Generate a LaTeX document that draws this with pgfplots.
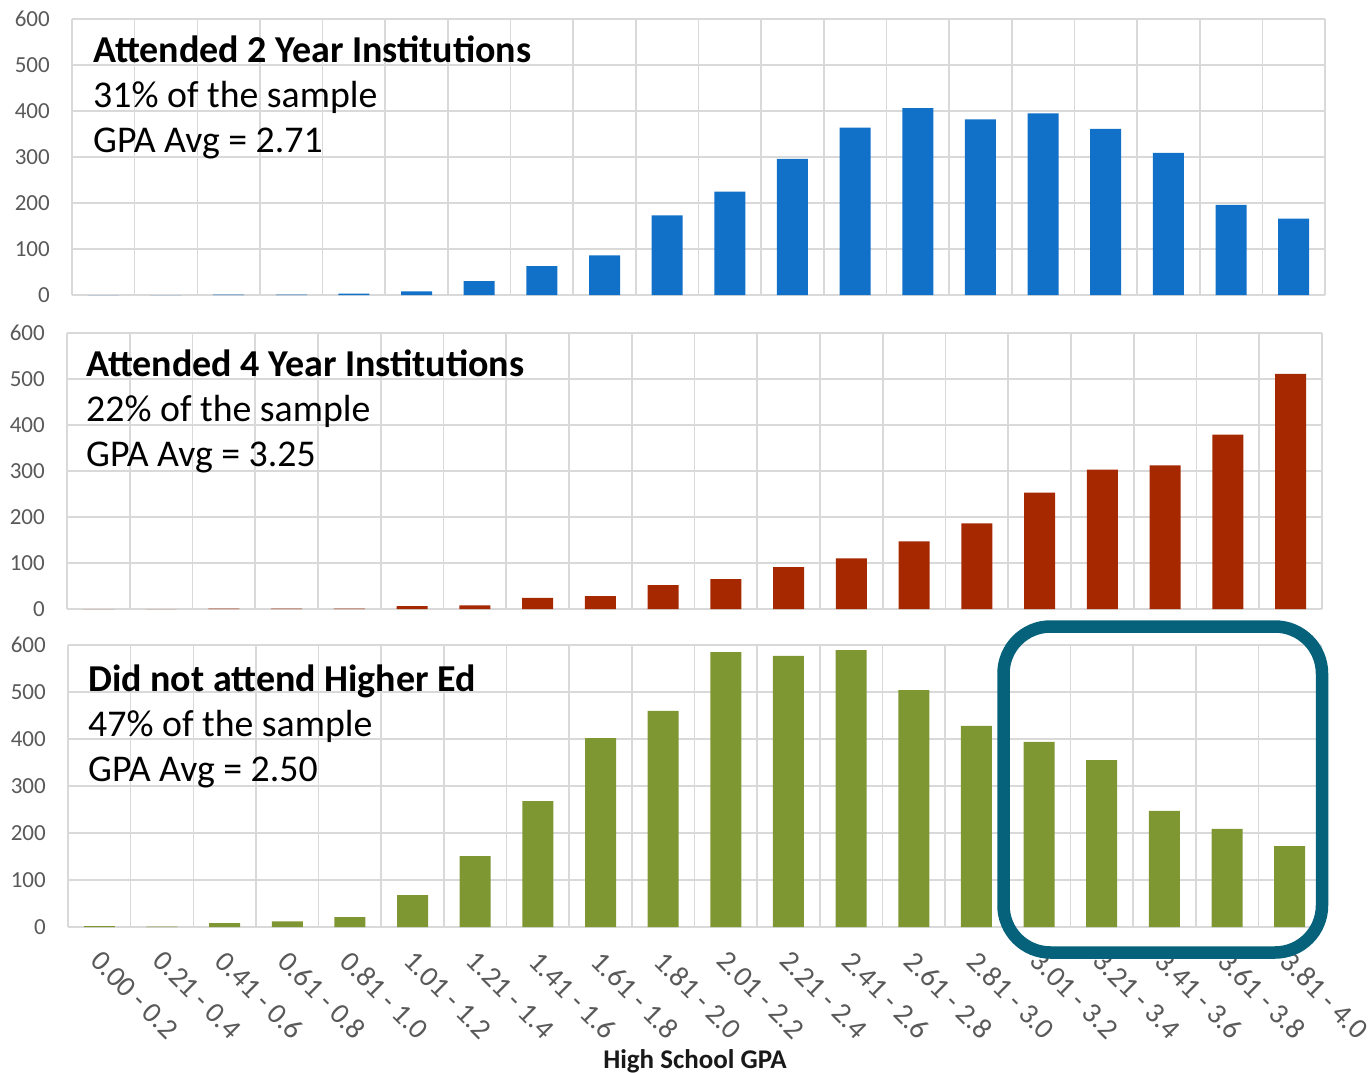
\documentclass[border=0pt]{standalone}
\usepackage{pgfplots}
\pgfplotsset{compat=1.18}
\usepackage{fontspec}
\setmainfont{Carlito}
\definecolor{cblue}{RGB}{17,112,200}
\definecolor{cred}{RGB}{166,40,0}
\definecolor{cgreen}{RGB}{127,151,51}
\definecolor{cteal}{RGB}{5,98,122}
\definecolor{cgrid}{RGB}{217,217,217}
\definecolor{ctick}{RGB}{89,89,89}
\pgfplotsset{
  panel/.style={
    scale only axis,
    anchor=north west,
    xmin=-0.5, xmax=19.5,
    ymin=0, ymax=600,
    ytick={0,100,...,600},
    xtick={0,...,19},
    minor xtick={-0.5,0.5,...,19.5},
    xmajorgrids=false,
    xminorgrids=true,
    ymajorgrids=true,
    grid style={draw=cgrid, line width=1.6pt},
    minor grid style={draw=cgrid, line width=1.6pt},
    axis line style={draw=none},
    major tick length=0pt,
    minor tick length=0pt,
    tick style={draw=none},
    /pgf/number format/assume math mode=true,
    yticklabel style={font=\fontsize{23}{23}\selectfont, color=ctick, inner sep=0pt, xshift=-22pt, anchor=east},
    xticklabels={},
  },
}
\newcommand{\titlefont}{\fontsize{37.8}{45}\selectfont}
\newcommand{\titlebfont}{\fontsize{38}{45}\selectfont\bfseries}
\begin{document}
\begin{tikzpicture}
\useasboundingbox (0,0) rectangle (1371pt,-1072pt);
% Panel 1
\begin{axis}[panel, at={(72pt,-19pt)}, width=1253pt, height=276pt]
\addplot[ybar, bar width=31pt, fill=cblue, draw=none] coordinates {
(0,0) (1,0) (2,1) (3,1) (4,3) (5,8) (6,30) (7,63) (8,86) (9,173)
(10,225) (11,296) (12,364) (13,406) (14,382) (15,395) (16,361) (17,309) (18,196) (19,166)};
\end{axis}
% Panel 2
\begin{axis}[panel, at={(67pt,-333pt)}, width=1255pt, height=276pt]
\addplot[ybar, bar width=31pt, fill=cred, draw=none] coordinates {
(0,0) (1,0) (2,1) (3,1) (4,1) (5,6) (6,8) (7,24) (8,28) (9,52)
(10,65) (11,91) (12,110) (13,147) (14,186) (15,253) (16,303) (17,312) (18,379) (19,511)};
\end{axis}
% Panel 3
\begin{axis}[panel, at={(68pt,-645pt)}, width=1253pt, height=282pt,
  xticklabels={0.00 - 0.2,0.21 - 0.4,0.41 - 0.6,0.61 - 0.8,0.81 - 1.0,1.01 - 1.2,1.21 - 1.4,1.41 - 1.6,1.61 - 1.8,1.81 - 2.0,2.01 - 2.2,2.21 - 2.4,2.41 - 2.6,2.61 - 2.8,2.81 - 3.0,3.01 - 3.2,3.21 - 3.4,3.41 - 3.6,3.61 - 3.8,3.81 - 4.0},
  xticklabel style={xshift=3pt, yshift=-22pt, rotate=-45, anchor=north west, inner sep=0pt, font=\fontsize{29}{29}\selectfont, color=ctick}]
\addplot[ybar, bar width=31pt, fill=cgreen, draw=none] coordinates {
(0,2) (1,1) (2,8) (3,12) (4,21) (5,68) (6,151) (7,268) (8,402) (9,460)
(10,585) (11,577) (12,589) (13,504) (14,428) (15,394) (16,355) (17,247) (18,209) (19,172)};
\end{axis}
% Titles
\node[anchor=base west, inner sep=0pt, font=\titlebfont] at (93pt,-62pt) {Attended 2 Year Institutions};
\node[anchor=base west, inner sep=0pt, font=\titlefont] at (93pt,-107pt) {31\% of the sample};
\node[anchor=base west, inner sep=0pt, font=\titlefont] at (93pt,-152pt) {GPA Avg = 2.71};
\node[anchor=base west, inner sep=0pt, font=\titlebfont] at (86pt,-376pt) {Attended 4 Year Institutions};
\node[anchor=base west, inner sep=0pt, font=\titlefont] at (86pt,-421pt) {22\% of the sample};
\node[anchor=base west, inner sep=0pt, font=\titlefont] at (86pt,-466pt) {GPA Avg = 3.25};
\node[anchor=base west, inner sep=0pt, font=\titlebfont] at (88pt,-691pt) {Did not attend Higher Ed};
\node[anchor=base west, inner sep=0pt, font=\titlefont] at (88pt,-736pt) {47\% of the sample};
\node[anchor=base west, inner sep=0pt, font=\titlefont] at (88pt,-781pt) {GPA Avg = 2.50};
% x label
\node[anchor=base, inner sep=0pt, font=\fontsize{27}{27}\selectfont\bfseries, color=black!90] at (695pt,-1068pt) {High School GPA};
% highlight box
\draw[cteal, line width=12.5pt, rounded corners=47pt] (1003.5pt,-626.5pt) rectangle (1322pt,-952.5pt);
\end{tikzpicture}
\end{document}
